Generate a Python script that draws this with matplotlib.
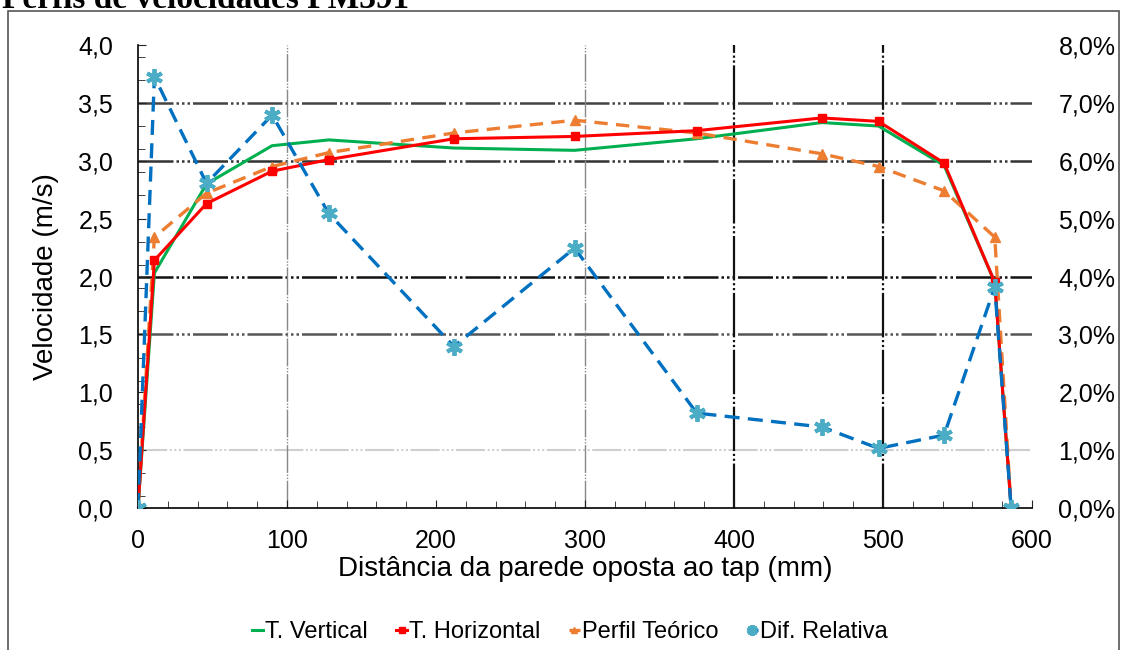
import matplotlib
matplotlib.use("Agg")
import matplotlib.pyplot as plt
from matplotlib.ticker import FuncFormatter, MultipleLocator, FixedLocator
from matplotlib.patches import Rectangle

plt.rcParams['font.family'] = ['Liberation Sans', 'DejaVu Sans']

# distancia (mm) e perfis
dist = [0, 11, 46, 90, 128, 212, 293, 375, 459, 497, 541, 575, 586]
t_vertical = [0, 2.03, 2.80, 3.13, 3.18, 3.11, 3.09, 3.19, 3.33, 3.30, 2.96, 1.95, 0]
t_horizontal = [0, 2.14, 2.63, 2.91, 3.01, 3.19, 3.21, 3.26, 3.37, 3.34, 2.98, 1.95, 0]
perfil_teorico = [0, 2.34, 2.72, 2.95, 3.07, 3.24, 3.35, 3.24, 3.06, 2.95, 2.74, 2.34, 0]
dif_relativa = [0, 7.45, 5.61, 6.79, 5.09, 2.79, 4.49, 1.64, 1.40, 1.03, 1.26, 3.82, 0]  # %

fig = plt.figure(figsize=(11.22, 6.5), dpi=100)

# moldura e titulo (cortado no topo, como no original)
fig.patches.append(Rectangle((8 / 1122, -0.1), (1119 - 8) / 1122, 1.1 - 11 / 650,
                             transform=fig.transFigure, fill=False, ec='#555555', lw=1.2))
fig.text(0.002, 1 - 8 / 650, 'Perfis de velocidades PM391', family='Liberation Serif',
         weight='bold', fontsize=24, va='baseline', ha='left')

ax = fig.add_axes([138 / 1122, 1 - 508 / 650, (1032 - 138) / 1122, (508 - 45) / 650])
ax2 = ax.twinx()

# grelha
hgrid = {0.5: ('#cfcfcf', 1.5), 1.5: ('#555555', 1.8), 2.0: ('#111111', 1.8),
         3.0: ('#333333', 1.8), 3.5: ('#444444', 1.8)}
for yv, (c, lw) in hgrid.items():
    ax.axhline(yv, color=c, lw=lw, ls=(0, (14, 1.2, 1, 1.2, 1, 1.2, 1, 1.2)), zorder=0)
vgrid = {100: ('#888888', 1.0), 300: ('#888888', 1.0), 400: ('#111111', 1.6), 500: ('#111111', 1.6)}
for xv, (c, lw) in vgrid.items():
    ax.axvline(xv, color=c, lw=lw, ls=(0, (20, 1.2, 1, 1.2, 1, 1.2)), zorder=0)

l1, = ax.plot(dist, t_vertical, color='#00B050', lw=2.2, label='T. Vertical', zorder=3)
l2, = ax.plot(dist, t_horizontal, color='#FF0000', lw=2.2, marker='s', ms=6,
              label='T. Horizontal', zorder=4)
l3, = ax.plot(dist, perfil_teorico, color='#ED7D31', lw=2.4, ls=(0, (4, 2.5)), marker='^',
              ms=7, label='Perfil Teórico', zorder=3)
l4, = ax2.plot(dist, dif_relativa, color='#0070C0', lw=2.4, ls=(0, (4.5, 2.5)),
               marker=(6, 2, 0), ms=12, mew=2.8, mec='#4BACC6', label='Dif. Relativa', zorder=5)

ax.set_xlim(0, 600)
ax.set_ylim(0, 4.0)
ax2.set_ylim(0, 8.0)
ax.set_zorder(ax2.get_zorder() - 1)
ax.patch.set_visible(True)
ax2.patch.set_visible(False)

ax.xaxis.set_major_locator(MultipleLocator(100))
ax.xaxis.set_minor_locator(MultipleLocator(20))
ax.yaxis.set_major_locator(MultipleLocator(0.5))
ax.yaxis.set_minor_locator(FixedLocator([0.1 + 0.2 * i for i in range(20)]))
ax2.yaxis.set_major_locator(MultipleLocator(1.0))

ax.yaxis.set_major_formatter(FuncFormatter(lambda v, p: f'{v:.1f}'.replace('.', ',')))
ax2.yaxis.set_major_formatter(FuncFormatter(lambda v, p: f'{v:.1f}%'.replace('.', ',')))

ax.tick_params(axis='both', which='both', direction='in', labelsize=18, color='#222222')
ax.tick_params(axis='both', which='major', length=6)
ax.tick_params(axis='y', which='major', pad=18)
ax.tick_params(axis='x', which='major', pad=15)
ax.tick_params(axis='both', which='minor', length=5)
ax2.tick_params(axis='y', length=0, labelsize=18, pad=19)

for s in ['top', 'right']:
    ax.spines[s].set_visible(False)
    ax2.spines[s].set_visible(False)
ax2.spines['left'].set_visible(False)
ax2.spines['bottom'].set_visible(False)
ax.spines['left'].set_linewidth(1.2)
ax.spines['bottom'].set_linewidth(1.2)

ax.set_xlabel('Distância da parede oposta ao tap (mm)', fontsize=20, labelpad=2)
ax.set_ylabel('Velocidade (m/s)', fontsize=20, labelpad=14)

fig.legend(handles=[l1, l2, l3, l4], loc='center', bbox_to_anchor=(570 / 1122, 1 - 632 / 650),
           ncol=4, frameon=False, fontsize=17, handlelength=0.45, handletextpad=0.1,
           columnspacing=1.2, markerscale=0.65)

fig.savefig('out.png', dpi=100)
